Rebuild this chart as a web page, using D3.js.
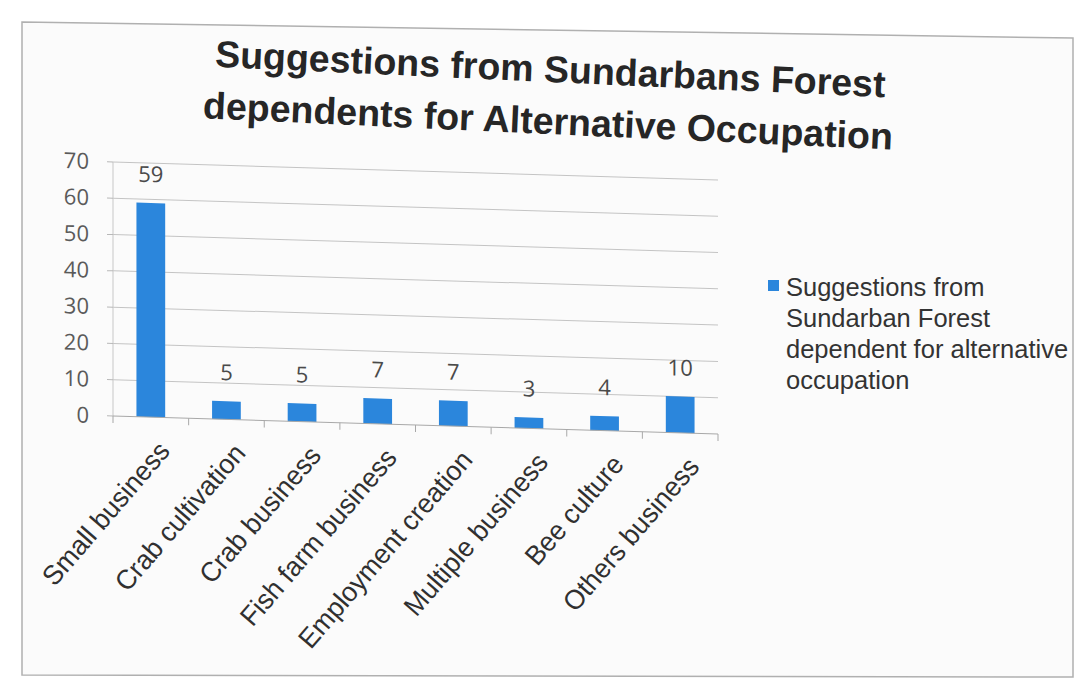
<!DOCTYPE html>
<html>
<head>
<meta charset="utf-8">
<script src="https://cdn.jsdelivr.net/npm/d3@7"></script>
<style>
  html, body { margin: 0; padding: 0; background: #ffffff; }
  svg { display: block; }
</style>
</head>
<body>
<script>
// Chart content
const titleLines = [
  "Suggestions from Sundarbans Forest",
  "dependents for Alternative Occupation"
];
const categories = [
  "Small business", "Crab cultivation", "Crab business", "Fish farm business",
  "Employment creation", "Multiple business", "Bee culture", "Others business"
];
const values = [59, 5, 5, 7, 7, 3, 4, 10];
const yTicks = [0, 10, 20, 30, 40, 50, 60, 70];
const legendLines = [
  "Suggestions from",
  "Sundarban Forest",
  "dependent for alternative",
  "occupation"
];

const W = 1077, H = 683;
const plot = { left: 113, right: 718, top: 162, bottom: 416 };
const barColor = "#2b86dc";

const svg = d3.select("body").append("svg")
  .attr("width", W).attr("height", H);

// Slide background and frame
svg.append("rect").attr("width", W).attr("height", H).attr("fill", "#ffffff");
svg.append("path")
  .attr("d", "M22,22 L1073,38 L1073,677 L22,675 Z")
  .attr("fill", "#fbfbfb")
  .attr("stroke", "#b0b0b0")
  .attr("stroke-width", 1.5);

// Title
const title = svg.append("g")
  .attr("transform", "rotate(2.6, 549, 100)");
title.selectAll("text").data(titleLines).enter().append("text")
  .attr("x", 549)
  .attr("y", (d, i) => 82 + i * 52)
  .attr("text-anchor", "middle")
  .attr("font-family", "'Liberation Sans', Arial, sans-serif")
  .attr("font-weight", "bold")
  .attr("font-size", 37.5)
  .attr("fill", "#262626")
  .text(d => d);

// Chart area, slightly slanted
const chart = svg.append("g")
  .attr("transform", `translate(${plot.left},0) skewY(1.7) translate(${-plot.left},0)`);

const x = d3.scaleBand()
  .domain(categories)
  .range([plot.left, plot.right])
  .paddingInner(0.62)
  .paddingOuter(0.31);

const y = d3.scaleLinear()
  .domain([0, 70])
  .range([plot.bottom, plot.top]);

// Y axis labels
const yAxis = chart.append("g")
  .attr("transform", `translate(${plot.left},0)`)
  .call(d3.axisLeft(y).tickValues(yTicks).tickSize(0).tickPadding(24));
yAxis.select(".domain").remove();
yAxis.selectAll("text")
  .attr("font-family", "'Open Sans', sans-serif")
  .attr("font-size", 22)
  .attr("fill", "#5a5a5a");

// Gridlines
chart.append("g").selectAll("line").data(yTicks.filter(t => t > 0)).enter().append("line")
  .attr("x1", plot.left).attr("x2", plot.right)
  .attr("y1", d => y(d)).attr("y2", d => y(d))
  .attr("stroke", "#c4c4c4").attr("stroke-width", 1);

// Y axis line and tick marks
chart.append("line")
  .attr("x1", plot.left).attr("x2", plot.left)
  .attr("y1", plot.top).attr("y2", plot.bottom)
  .attr("stroke", "#c8c8c8");
chart.append("g").selectAll("line").data(yTicks).enter().append("line")
  .attr("x1", plot.left - 6).attr("x2", plot.left)
  .attr("y1", d => y(d)).attr("y2", d => y(d))
  .attr("stroke", "#b8b8b8");

// Bars
chart.append("g").selectAll("rect").data(values).enter().append("rect")
  .attr("x", (d, i) => x(categories[i]))
  .attr("width", x.bandwidth())
  .attr("y", d => y(d))
  .attr("height", d => y(0) - y(d))
  .attr("fill", barColor);

// Data labels
chart.append("g").selectAll("text").data(values).enter().append("text")
  .attr("x", (d, i) => x(categories[i]) + x.bandwidth() / 2)
  .attr("y", d => y(d) - 21)
  .attr("text-anchor", "middle")
  .attr("font-family", "'Open Sans', sans-serif")
  .attr("font-size", 22)
  .attr("fill", "#4a4a4a")
  .text(d => d);

// X axis line and category boundary ticks
chart.append("line")
  .attr("x1", plot.left).attr("x2", plot.right)
  .attr("y1", plot.bottom).attr("y2", plot.bottom)
  .attr("stroke", "#a8a8a8");
const bounds = d3.range(categories.length + 1).map(i => plot.left + i * x.step());
chart.append("g").selectAll("line").data(bounds).enter().append("line")
  .attr("x1", d => d).attr("x2", d => d)
  .attr("y1", plot.bottom).attr("y2", plot.bottom + 7)
  .attr("stroke", "#a8a8a8");

// Category labels
chart.append("g").selectAll("text").data(categories).enter().append("text")
  .attr("transform", d => `translate(${x(d) + x.bandwidth() / 2 + 6},${plot.bottom + 22}) rotate(-50)`)
  .attr("text-anchor", "end")
  .attr("dy", "0.7em")
  .attr("font-family", "'Liberation Sans', Arial, sans-serif")
  .attr("font-size", 27)
  .attr("fill", "#303030")
  .text(d => d);

// Legend
const legend = svg.append("g");
legend.append("rect")
  .attr("x", 768).attr("y", 280).attr("width", 11).attr("height", 11)
  .attr("fill", barColor);
legend.selectAll("text").data(legendLines).enter().append("text")
  .attr("x", 786)
  .attr("y", (d, i) => 296 + i * 31)
  .attr("font-family", "'Liberation Sans', Arial, sans-serif")
  .attr("font-size", 25.5)
  .attr("fill", "#333333")
  .text(d => d);
</script>
</body>
</html>
